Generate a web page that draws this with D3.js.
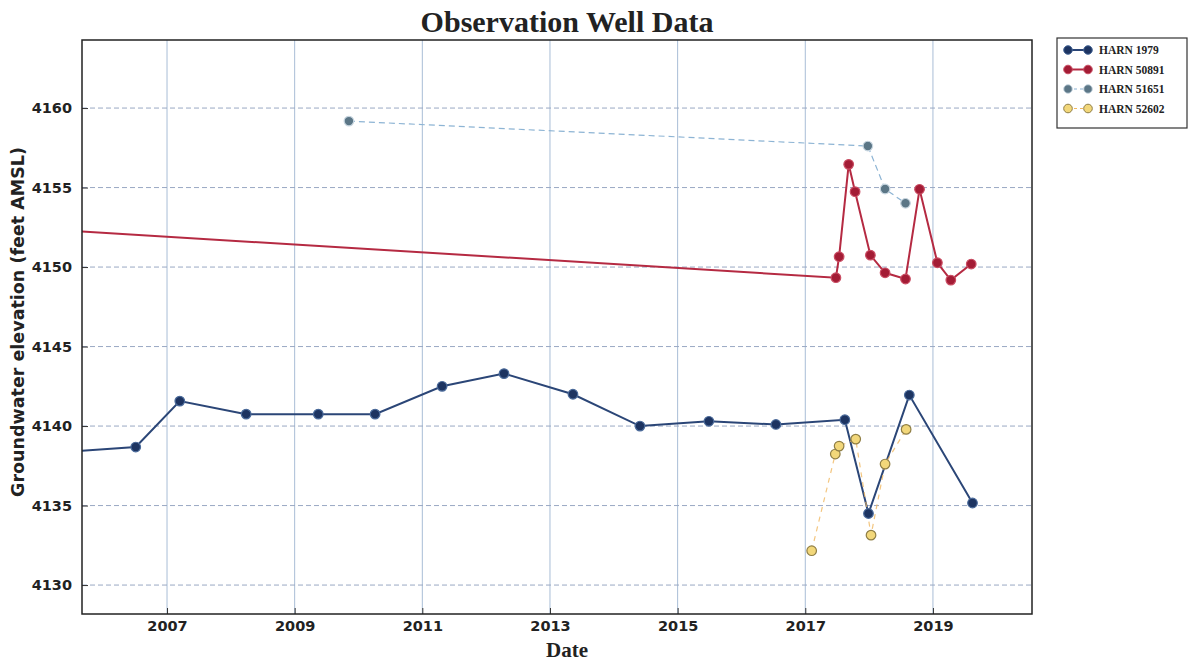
<!DOCTYPE html>
<html>
<head>
<meta charset="utf-8">
<script src="https://cdn.jsdelivr.net/npm/d3@7"></script>
<style>
  body { margin: 0; background: #fff; }
  .tick-lbl { font-family: "DejaVu Sans", sans-serif; font-weight: bold; font-size: 14.5px; fill: #222; }
</style>
</head>
<body>
<svg id="chart" width="1189" height="666"></svg>
<script>
// decimal years / feet AMSL
let harn1979Years = [2005.3, 2006.51, 2007.20, 2008.24, 2009.37, 2010.26, 2011.31, 2012.28, 2013.36, 2014.41, 2015.49, 2016.54, 2017.62, 2017.99, 2018.63, 2019.62];
let harn1979Vals  = [4138.35, 4138.68, 4141.57, 4140.75, 4140.75, 4140.75, 4142.5, 4143.3, 4142.0, 4140.0, 4140.3, 4140.1, 4140.4, 4134.5, 4141.95, 4135.16];

let harn50891Years = [2005.0, 2017.48, 2017.53, 2017.68, 2017.78, 2018.02, 2018.25, 2018.57, 2018.79, 2019.07, 2019.28, 2019.60];
let harn50891Vals  = [4152.40, 4149.33, 4150.65, 4156.46, 4154.74, 4150.75, 4149.64, 4149.25, 4154.89, 4150.27, 4149.18, 4150.19];

let harn51651Years = [2009.85, 2017.98, 2018.25, 2018.57];
let harn51651Vals  = [4159.18, 4157.61, 4154.91, 4154.01];

let harn52602Years = [2017.10, 2017.47, 2017.53, 2017.79, 2018.03, 2018.25, 2018.58];
let harn52602Vals  = [4132.16, 4138.24, 4138.74, 4139.18, 4133.14, 4137.61, 4139.79];

let xTicks = [2007, 2009, 2011, 2013, 2015, 2017, 2019];
let yTicks = [4130, 4135, 4140, 4145, 4150, 4155, 4160];

let seriesNames = ["HARN 1979", "HARN 50891", "HARN 51651", "HARN 52602"];

let zip = (xs, ys) => xs.map((x, i) => ({ x: x, y: ys[i] }));

let series = [
  { name: seriesNames[0], data: zip(harn1979Years, harn1979Vals), line: "#2b4677", lw: 2, dash: null, fill: "#1d3461", edge: "#4a6a9a", op: 1 },
  { name: seriesNames[1], data: zip(harn50891Years, harn50891Vals), line: "#b52a42", lw: 2, dash: null, fill: "#a31c35", edge: "#c94c62", op: 1 },
  { name: seriesNames[2], data: zip(harn51651Years, harn51651Vals), line: "#8db4d4", lw: 1.2, dash: "6,4", fill: "#5b7686", edge: "#c8d6e0", op: 1 },
  { name: seriesNames[3], data: zip(harn52602Years, harn52602Vals), line: "#f0b860", lw: 1.2, dash: "5,5", fill: "#f2d77a", edge: "#8f7e45", op: 0.8 }
];

let svg = d3.select("#chart");
let margin = { top: 40, left: 82, right: 1189 - 1032, bottom: 666 - 614 };
let W = 1189 - margin.left - margin.right,
    H = 666 - margin.top - margin.bottom;

let x = d3.scaleLinear().domain([2005.668, 2020.552]).range([0, W]);
let y = d3.scaleLinear().domain([4128.18, 4164.28]).range([H, 0]);

let g = svg.append("g").attr("transform", "translate(" + margin.left + "," + margin.top + ")");

g.append("clipPath").attr("id", "plotclip")
  .append("rect").attr("width", W).attr("height", H);

// grid
g.selectAll(".vgrid").data(xTicks).enter().append("line")
  .attr("x1", d => x(d)).attr("x2", d => x(d))
  .attr("y1", 0).attr("y2", H)
  .attr("stroke", "#a9bdd6").attr("stroke-width", 1);

g.selectAll(".hgrid").data(yTicks).enter().append("line")
  .attr("x1", 0).attr("x2", W)
  .attr("y1", d => y(d)).attr("y2", d => y(d))
  .attr("stroke", "#9aa8c4").attr("stroke-width", 1)
  .attr("stroke-dasharray", "5,3");

// axes, ticks point inward like the original
let xAxis = d3.axisBottom(x).tickValues(xTicks).tickFormat(d3.format("d")).tickSize(-6).tickPadding(7);
let yAxis = d3.axisLeft(y).tickValues(yTicks).tickFormat(d3.format("d")).tickSize(-6).tickPadding(10);

let xa = g.append("g").attr("transform", "translate(0," + H + ")").call(xAxis);
let ya = g.append("g").call(yAxis);
[xa, ya].forEach(a => {
  a.select(".domain").remove();
  a.selectAll(".tick line").attr("stroke", "#333");
  a.selectAll(".tick text").attr("class", "tick-lbl");
});

// lines
let lineGen = d3.line().x(d => x(d.x)).y(d => y(d.y));
let plot = g.append("g").attr("clip-path", "url(#plotclip)");

series.forEach(s => {
  plot.append("path")
    .datum(s.data)
    .attr("d", lineGen)
    .attr("fill", "none")
    .attr("stroke", s.line)
    .attr("stroke-width", s.lw)
    .attr("stroke-dasharray", s.dash)
    .attr("opacity", s.op);
});

series.forEach(s => {
  plot.selectAll(null).data(s.data).enter().append("circle")
    .attr("cx", d => x(d.x))
    .attr("cy", d => y(d.y))
    .attr("r", 4.8)
    .attr("fill", s.fill)
    .attr("stroke", s.edge)
    .attr("stroke-width", 1.2);
});

// frame
g.append("rect").attr("width", W).attr("height", H)
  .attr("fill", "none").attr("stroke", "#222").attr("stroke-width", 1.5);

// titles
svg.append("text")
  .attr("x", 567).attr("y", 32)
  .attr("text-anchor", "middle")
  .style("font-family", "'Liberation Serif', serif").style("font-weight", "bold").style("font-size", "30px")
  .attr("fill", "#222")
  .text("Observation Well Data");

svg.append("text")
  .attr("x", 567).attr("y", 657)
  .attr("text-anchor", "middle")
  .style("font-family", "'Liberation Serif', serif").style("font-weight", "bold").style("font-size", "21px")
  .attr("fill", "#222")
  .text("Date");

svg.append("text")
  .attr("transform", "translate(24," + (margin.top + H / 2 - 5) + ") rotate(-90)")
  .attr("text-anchor", "middle")
  .style("font-family", "'DejaVu Sans', sans-serif").style("font-weight", "bold").style("font-size", "17.5px")
  .attr("fill", "#222")
  .text("Groundwater elevation (feet AMSL)");

// legend
let lg = svg.append("g").attr("transform", "translate(1057,38)");
lg.append("rect").attr("width", 130).attr("height", 90)
  .attr("fill", "#fff").attr("stroke", "#333").attr("stroke-width", 1.2);

series.forEach((s, i) => {
  let row = lg.append("g").attr("transform", "translate(0," + (12 + i * 19.5) + ")");
  row.append("line").attr("x1", 11).attr("x2", 31).attr("y1", 0).attr("y2", 0)
    .attr("stroke", s.line).attr("stroke-width", s.lw)
    .attr("stroke-dasharray", i >= 2 ? "3,3" : null);
  [11, 31].forEach(cx => {
    row.append("circle").attr("cx", cx).attr("cy", 0).attr("r", 4.3)
      .attr("fill", s.fill).attr("stroke", s.edge).attr("stroke-width", 1);
  });
  row.append("text").attr("x", 42).attr("y", 4)
    .style("font-family", "'Liberation Serif', serif").style("font-weight", "bold").style("font-size", "11.5px")
    .attr("fill", "#222")
    .text(s.name);
});
</script>
</body>
</html>
